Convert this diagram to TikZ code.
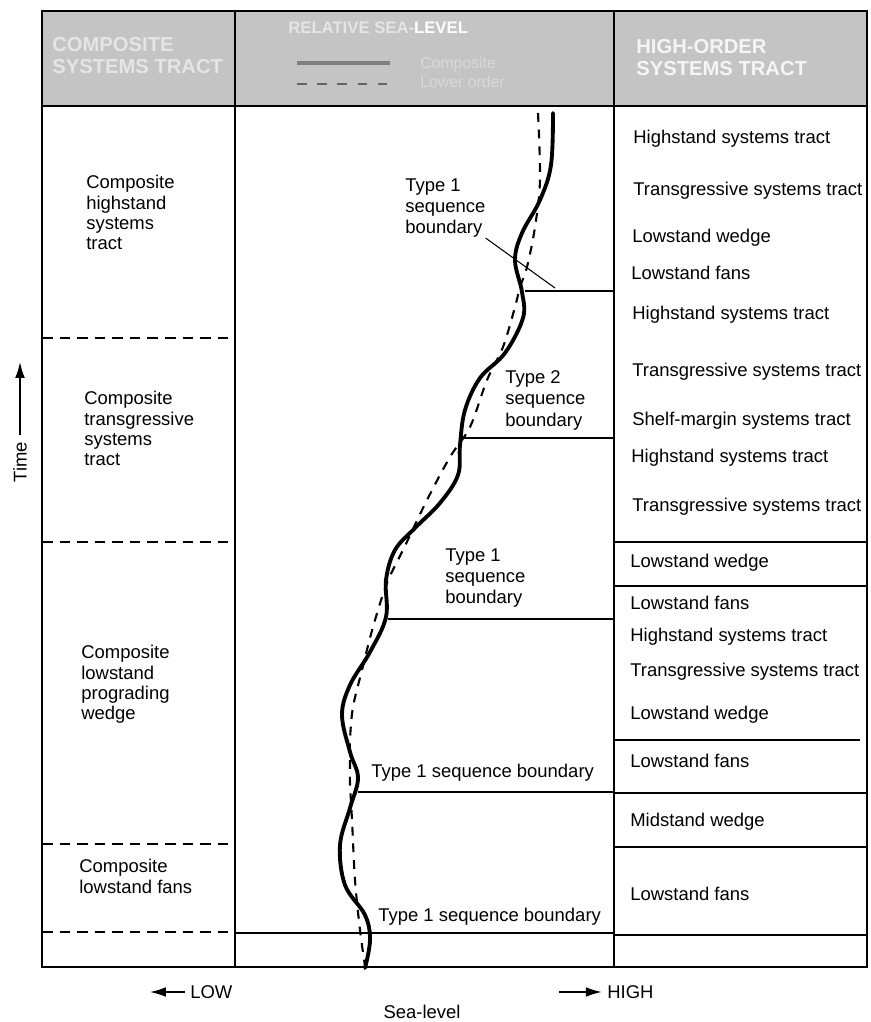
\documentclass[tikz,border=0pt]{standalone}
\usepackage{fontspec}
\setmainfont{Liberation Sans}
\usetikzlibrary{positioning,arrows.meta}

\begin{document}
\begin{tikzpicture}
[
x=0.02cm, y=-0.02cm,
frame-a/.style={line width=1pt},
rule-a/.style={line width=0.6pt},
rule-d/.style={line width=0.8pt, dash pattern=on 6pt off 4pt},
text-a/.style={black, font=\fontsize{10.5}{12}\selectfont, inner sep=0pt, anchor=west},
text-l/.style={black, font=\fontsize{10.5}{11.6}\selectfont, inner sep=0pt, anchor=north west, align=left},
text-m/.style={black, font=\fontsize{10.5}{12.2}\selectfont, inner sep=0pt, anchor=north west, align=left},
head-a/.style={white!90!black, font=\fontsize{11.5}{12.5}\selectfont\bfseries, inner sep=0pt, anchor=north west, align=left},
curve-a/.style={line width=2.2pt, line cap=round, line join=round},
curve-b/.style={line width=1.2pt, dash pattern=on 5pt off 4.5pt},
arrow-a/.style={line width=0.8pt, -{Latex[length=9pt,width=5.5pt]}}
]
\useasboundingbox (0,0) rectangle (870,1022);

% header band
\fill[black!23] (42,11) rectangle (867,106);
\draw[frame-a] (42,11) rectangle (867,967);
\draw[frame-a] (42,106) -- (867,106);
\draw[frame-a] (235,11) -- (235,967);
\draw[frame-a] (614,11) -- (614,967);

\node (head-1) [head-a] at (52,37) {COMPOSITE\\SYSTEMS TRACT};
\node (head-2) [head-a, font=\fontsize{9.5}{11}\selectfont\bfseries, anchor=west] at (288,28)
  {RELATIVE SEA-{\color{white}LEVEL}};
\node (head-3) [head-a, white!96!black] at (636,39) {HIGH-ORDER\\SYSTEMS TRACT};
\node (key-1) [head-a, font=\fontsize{9}{10.5}\selectfont, white!85!black] at (420,57) {Composite\\Lower order};
\draw[line width=2pt, black!50] (297,63) -- (390,63);
\draw[line width=1.1pt, black!60, dash pattern=on 5.5pt off 6pt] (297,84) -- (390,84);

% composite tracts
\foreach \yy in {338,542,844,932} \draw[rule-d] (42,\yy) -- (235,\yy);
\node (cp-hst) [text-l] at (86,175) {Composite\\highstand\\systems\\tract};
\node (cp-tst) [text-l] at (84,391) {Composite\\transgressive\\systems\\tract};
\node (cp-lpw) [text-l] at (81,645) {Composite\\lowstand\\prograding\\wedge};
\node (cp-lsf) [text-l] at (79,859) {Composite\\lowstand fans};

% sea-level curves
\draw[curve-a] plot[smooth, tension=0.6] coordinates {
  (553,113) (551,165) (540,200) (522,233) (515,260) (522,292) (523,318)
  (505,353) (480,378) (465,410) (460,445) (458,475) (440,503) (415,528)
  (395,550) (386,580) (386,617) (370,652) (350,685) (342,715) (350,752)
  (358,778) (350,808) (340,845) (345,885) (365,915) (370,940) (365,968)};
\draw[curve-b] plot[smooth, tension=0.55] coordinates {
  (538,113) (540,180) (535,227) (527,267) (520,287) (515,307) (503,347)
  (487,380) (470,427) (450,457) (427,500) (403,550) (387,583) (373,627)
  (362,670) (353,707) (350,740) (350,767) (350,783) (352,820) (355,880)
  (360,930) (365,966)};

% sequence boundaries
\draw[rule-a] (525,291) -- (614,291);
\draw[rule-a] (462,438) -- (614,438);
\draw[rule-a] (388,619) -- (614,619);
\draw[rule-a] (358,792) -- (614,792);
\draw[rule-a] (235,933) -- (614,933);

\node (sb-1) [text-m] at (405,178) {Type 1\\sequence\\boundary};
\coordinate (sb-1-end) at (555,288);
\draw[rule-a] (sb-1.south east) -- (sb-1-end);
\node (sb-2) [text-m] at (505,370) {Type 2\\sequence\\boundary};
\node (sb-3) [text-m] at (445,548) {Type 1\\sequence\\boundary};
\node (sb-4) [text-a] at (371,773) {Type 1 sequence boundary};
\node (sb-5) [text-a] at (378,917) {Type 1 sequence boundary};

% high-order tracts
\foreach \yy in {542,586,793,847,935} \draw[rule-a] (614,\yy) -- (867,\yy);
\draw[rule-a] (614,740) -- (860,740);

\node (hst-1) [text-a] at (633,139) {Highstand systems tract};
\node (tst-1) [text-a] at (633,191) {Transgressive systems tract};
\node (lsw-1) [text-a] at (632,238) {Lowstand wedge};
\node (lsf-1) [text-a] at (631,273) {Lowstand fans};
\node (hst-2) [text-a] at (632,315) {Highstand systems tract};
\node (tst-2) [text-a] at (632,372) {Transgressive systems tract};
\node (smw-1) [text-a] at (632,421) {Shelf-margin systems tract};
\node (hst-3) [text-a] at (631,458) {Highstand systems tract};
\node (tst-3) [text-a] at (632,507) {Transgressive systems tract};
\node (lsw-2) [text-a] at (630,563) {Lowstand wedge};
\node (lsf-2) [text-a] at (630,603) {Lowstand fans};
\node (hst-4) [text-a] at (630,637) {Highstand systems tract};
\node (tst-4) [text-a] at (630,672) {Transgressive systems tract};
\node (lsw-3) [text-a] at (630,715) {Lowstand wedge};
\node (lsf-3) [text-a] at (630,761) {Lowstand fans};
\node (msw-1) [text-a] at (630,822) {Midstand wedge};
\node (lsf-4) [text-a] at (630,894) {Lowstand fans};

% axes
\node (time) [text-a, rotate=90, anchor=center] at (20,462) {Time};
\coordinate (time-tip) at (20,362);
\draw[arrow-a] ([yshift=3.5pt]time.east) -- (time-tip);

\node (low) [text-a] at (190,992) {LOW};
\coordinate (low-tip) at (150,992);
\draw[arrow-a] ([xshift=-3pt]low.west) -- (low-tip);
\node (high) [text-a] at (607,992) {HIGH};
\coordinate (high-tail) at (559,992);
\draw[arrow-a] (high-tail) -- ([xshift=-3pt]high.west);
\node (sea) [text-a, anchor=center] at (422,1012) {Sea-level};
\end{tikzpicture}
\end{document}
